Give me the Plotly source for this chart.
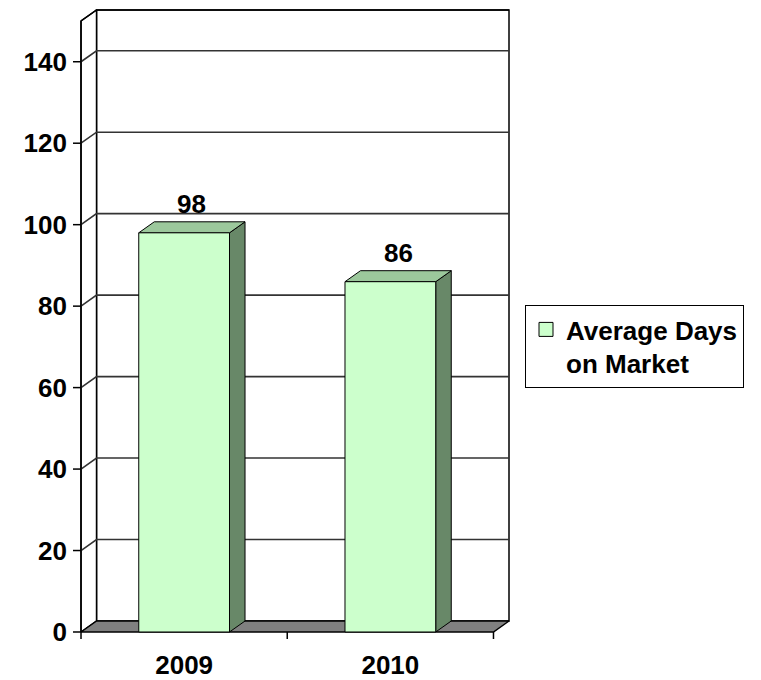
import plotly.graph_objects as go

# ---- data ----
categories = ["2009", "2010"]
days = [98, 86]
series_name = "Average Days<br>on Market"
y_ticks = [0, 20, 40, 60, 80, 100, 120, 140]
y_max = 150

# ---- style constants ----
W, H = 761, 680
OFF = 8               # browser body margin
PX_X = 206.0          # pixels per category unit
PX_Y = 4.07           # pixels per value unit
DX = 15.5 / PX_X      # depth offset (x units)
DY = 11.0 / PX_Y      # depth offset (y units)
BW = 0.44             # bar width (category units)
TL_Y = 8 / PX_X       # y tick length
TL_X = 7 / PX_Y       # x tick length
PAD_R = 3 / PX_X
PAD_T = 2 / PX_Y

FRONT = "#CCFFCC"
TOP = "#9CC89C"
SIDE = "#688868"
FLOOR = "#808080"
GRID = "#333333"
FONT = dict(family="Liberation Sans, Arial, sans-serif", size=26, color="black", weight="bold")

n = len(categories)
xl, xr = -0.5, n - 0.5

x0 = xl - TL_Y
x1 = xr + DX + PAD_R
y0 = -TL_X
y1 = y_max + DY + PAD_T

FW, FH = W - OFF, H - OFF
plot_w = (x1 - x0) * PX_X
plot_h = (y1 - y0) * PX_Y
m_l = 81 - TL_Y * PX_X - OFF
m_b = H - (631.7 + TL_X * PX_Y)
m_t = FH - m_b - plot_h
m_r = FW - m_l - plot_w

fig = go.Figure()


def poly(xs, ys, fill, lw=1, lc="black"):
    fig.add_trace(go.Scatter(
        x=list(xs) + [xs[0]], y=list(ys) + [ys[0]], mode="lines", fill="toself",
        fillcolor=fill, line=dict(color=lc, width=lw), showlegend=False, hoverinfo="skip"))


def polyline(xs, ys, color, lw):
    fig.add_trace(go.Scatter(x=xs, y=ys, mode="lines", line=dict(color=color, width=lw),
                             showlegend=False, hoverinfo="skip"))


# back wall
poly([xl + DX, xl + DX, xr + DX, xr + DX], [DY, y_max + DY, y_max + DY, DY], "white", 1.5)
# left wall
poly([xl, xl, xl + DX, xl + DX], [0, y_max, y_max + DY, DY], "white", 1.5)

# gridlines (left wall diagonal + back wall)
gx, gy = [], []
for t in y_ticks[1:]:
    gx += [xl, xl + DX, xr + DX, None]
    gy += [t, t + DY, t + DY, None]
polyline(gx, gy, GRID, 1.6)
# top edge
polyline([xl, xl + DX, xr + DX], [y_max, y_max + DY, y_max + DY], "black", 1.5)

# floor
poly([xl, xr, xr + DX, xl + DX], [0, 0, DY, DY], FLOOR, 1.5)

# bars
for i, v in enumerate(days):
    a, b = i - BW / 2, i + BW / 2
    poly([b, b + DX, b + DX, b], [0, DY, v + DY, v], SIDE, 1)
    poly([a, b, b + DX, a + DX], [v, v, v + DY, v + DY], TOP, 1)
    poly([a, b, b, a], [0, 0, v, v], FRONT, 1)
    fig.add_annotation(x=i + DX / 2, y=v + DY, text=str(v), showarrow=False,
                       yanchor="bottom", xanchor="center", font=FONT, yshift=1)

# front axis line
polyline([xl, xl], [0, y_max], "black", 1.5)
# y tick marks
tx, ty = [], []
for t in y_ticks:
    tx += [xl - TL_Y, xl, None]
    ty += [t, t, None]
polyline(tx, ty, "black", 1.5)
# x tick marks (category boundaries)
bx, by = [], []
for k in range(n + 1):
    bx += [k - 0.5, k - 0.5, None]
    by += [0, -TL_X, None]
polyline(bx, by, "black", 1.5)

# legend entry
fig.add_trace(go.Scatter(x=[None], y=[None], mode="markers", name=series_name,
                         marker=dict(symbol="square", size=14, color=FRONT,
                                     line=dict(color="black", width=1))))

fig.update_xaxes(range=[x0, x1], tickvals=list(range(n)), ticktext=categories,
                 showgrid=False, zeroline=False, showline=False, ticks="",
                 tickfont=FONT, ticklabelstandoff=8)
fig.update_yaxes(range=[y0, y1], tickvals=y_ticks, ticktext=[str(t) for t in y_ticks],
                 showgrid=False, zeroline=False, showline=False, ticks="",
                 tickfont=FONT, ticklabelstandoff=5)

fig.update_layout(
    width=FW, height=FH, plot_bgcolor="white", paper_bgcolor="white",
    margin=dict(l=m_l, r=m_r, t=m_t, b=m_b, autoexpand=False),
    showlegend=True,
    legend=dict(xref="container", yref="container", x=(525 - OFF) / FW,
                y=1 - (305 - OFF) / FH,
                xanchor="left", yanchor="top", bordercolor="black", borderwidth=1,
                font=FONT, valign="top", bgcolor="white"),
)

fig.write_html("out.html")
